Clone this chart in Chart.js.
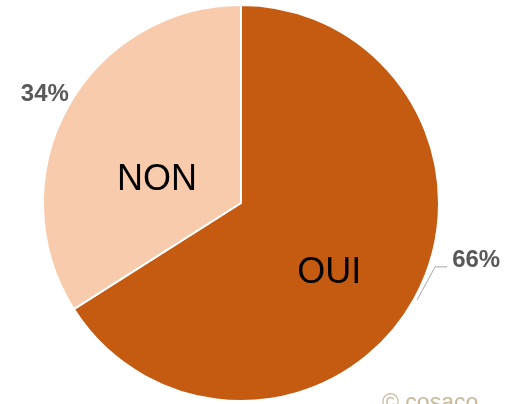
<!DOCTYPE html>
<html>
<head>
<meta charset="utf-8">
<script src="https://cdn.jsdelivr.net/npm/chart.js@4"></script>
<style>
    html, body { margin: 0; padding: 0; background: #fff; }
    #wrap { width: 514px; height: 404px; position: relative; overflow: hidden; }
</style>
</head>
<body>
<div id="wrap"><canvas id="chart" width="514" height="404"></canvas></div>
<script>
// Data
const categories = ['OUI', 'NON'];
const values = [66, 34];
const percentLabels = ['66%', '34%'];
const sliceColors = ['#C55A11', '#F8CBAD'];

// Name position inside each slice: angle (deg, canvas) and fraction of radius
const namePlacement = [
    { angle: 38.5, ratio: 0.57 },
    { angle: 195.3, ratio: 0.44 }
];

const labelPlugin = {
    id: 'sliceLabels',
    afterDatasetsDraw(chart) {
        const ctx = chart.ctx;
        const arcs = chart.getDatasetMeta(0).data;
        ctx.save();

        arcs.forEach((arc, i) => {
            const { x, y, startAngle, endAngle, outerRadius } = arc.getProps(['x', 'y', 'startAngle', 'endAngle', 'outerRadius'], true);
            const mid = (startAngle + endAngle) / 2;
            const cos = Math.cos(mid);
            const sin = Math.sin(mid);

            // Category name inside the slice
            const p = namePlacement[i];
            const a = p.angle * Math.PI / 180;
            ctx.fillStyle = '#000';
            ctx.font = '36px "Liberation Sans", Arial, sans-serif';
            ctx.textAlign = 'center';
            ctx.textBaseline = 'middle';
            ctx.fillText(categories[i], x + Math.cos(a) * outerRadius * p.ratio, y + Math.sin(a) * outerRadius * p.ratio);

            // Percent label outside
            ctx.font = 'bold 24px "Liberation Sans", Arial, sans-serif';
            ctx.fillStyle = '#595959';
            ctx.textBaseline = 'alphabetic';
            const ex = x + cos * (outerRadius + 3);
            const ey = y + sin * (outerRadius + 3);
            if (cos > 0) {
                // leader line with elbow
                const bx = ex + 18, by = ey - 33;
                ctx.strokeStyle = '#a6a6a6';
                ctx.lineWidth = 1;
                ctx.beginPath();
                ctx.moveTo(ex, ey);
                ctx.lineTo(bx, by);
                ctx.lineTo(bx + 12, by);
                ctx.stroke();
                ctx.textAlign = 'left';
                ctx.fillText(percentLabels[i], bx + 17, by + 0);
            } else {
                ctx.textAlign = 'right';
                ctx.fillText(percentLabels[i], ex + 4, ey - 5);
            }
        });

        // watermark
        ctx.font = '23px "Liberation Sans", Arial, sans-serif';
        ctx.fillStyle = '#c9b99b';
        ctx.textAlign = 'left';
        ctx.textBaseline = 'alphabetic';
        ctx.fillText('\u00A9 cosaco', 382, 410);
        ctx.restore();
    }
};

new Chart(document.getElementById('chart'), {
    type: 'pie',
    data: {
        labels: categories,
        datasets: [{
            data: values,
            backgroundColor: sliceColors,
            borderColor: '#ffffff',
            borderWidth: 2
        }]
    },
    options: {
        responsive: false,
        animation: false,
        layout: { padding: { top: 4, bottom: 2, left: 0, right: 32 } },
        plugins: {
            legend: { display: false },
            tooltip: { enabled: false }
        }
    },
    plugins: [labelPlugin]
});
</script>
</body>
</html>
